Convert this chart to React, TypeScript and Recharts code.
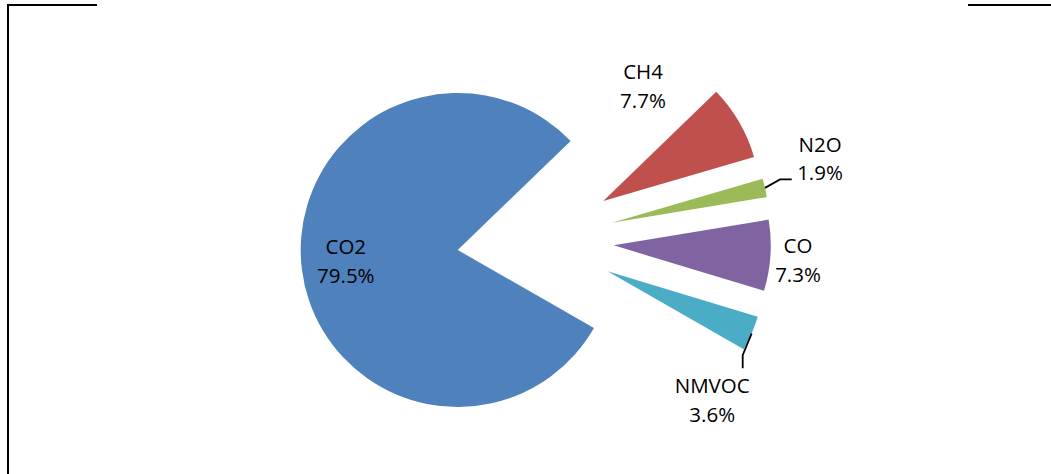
import React from 'react';
import { PieChart, Pie, Cell } from 'recharts';

const categories = ['CO2', 'CH4', 'N2O', 'CO', 'NMVOC'];
const shares = [79.5, 7.7, 1.9, 7.3, 3.6];

const COLORS = ['#4F81BD', '#C0504D', '#9BBB59', '#8064A2', '#4BACC6'];
// label block centre offsets from each exploded slice's centre (px)
const LABEL_OFFSETS: number[][] = [
  [-111.9, 13.5],
  [39.7, -112.9],
  [208.1, -62],
  [184.3, 17.1],
  [104.7, 130.9],
];
// leader line elbow and end, relative to label centre
const LEADERS: Record<number, number[][]> = {
  2: [[-40, 18.5], [-28.3, 18.5]],
  4: [[30.5, -47], [30.5, -34]],
};

const data = categories.map((name, i) => ({ name, value: shares[i] }));
const total = shares.reduce((a, b) => a + b, 0);
const START = 330.2;
const END = START - 360;
const CX = 535.5;
const CY = 240.3;
const R = 157;
const EXPLODE = 78.4;
const RAD = Math.PI / 180;

const mids = shares.map((v, i) => {
  const before = shares.slice(0, i).reduce((a, b) => a + b, 0);
  return START - (360 * (before + v / 2)) / total;
});

const FONT = "'Open Sans', sans-serif";

const renderLabel = (target: number) => (props: any) => {
  if (props.index !== target) return null;
  const [dx, dy] = LABEL_OFFSETS[target];
  const x = props.cx + dx;
  const y = props.cy + dy;
  const pct = ((props.value / total) * 100).toFixed(1) + '%';
  return (
    <text x={x} y={y} textAnchor="middle" fontFamily={FONT} fontSize={20.5} fill="#000">
      <tspan x={x} y={y - 9}>{categories[target]}</tspan>
      <tspan x={x} y={y + 19.5}>{pct}</tspan>
    </text>
  );
};

const renderLine = (target: number) => (props: any) => {
  if (props.index !== target || !LEADERS[target]) return null;
  const m = props.midAngle * RAD;
  const sx = props.cx + props.outerRadius * Math.cos(m);
  const sy = props.cy - props.outerRadius * Math.sin(m);
  const [dx, dy] = LABEL_OFFSETS[target];
  const lx = props.cx + dx;
  const ly = props.cy + dy;
  const pts = [[sx, sy], ...LEADERS[target].map(([ox, oy]) => [lx + ox, ly + oy])];
  return (
    <polyline
      points={pts.map((p) => p.join(',')).join(' ')}
      stroke="#000"
      strokeWidth={1.8}
      fill="none"
    />
  );
};

export default function App() {
  return (
    <div style={{ position: 'absolute', left: 0, top: 0, width: 1051, height: 474, background: '#fff' }}>
      <PieChart width={1051} height={474} margin={{ top: 0, right: 0, bottom: 0, left: 0 }}>
        {mids.map((mid, i) => (
          <Pie
            key={categories[i]}
            data={data}
            dataKey="value"
            nameKey="name"
            cx={CX + EXPLODE * Math.cos(mid * RAD)}
            cy={CY - EXPLODE * Math.sin(mid * RAD)}
            innerRadius={0}
            outerRadius={R}
            startAngle={START}
            endAngle={END}
            stroke="none"
            isAnimationActive={false}
            label={renderLabel(i)}
            labelLine={renderLine(i)}
          >
            {data.map((d, j) => (
              <Cell key={d.name} fill={j === i ? COLORS[j] : 'none'} stroke="none" />
            ))}
          </Pie>
        ))}
      </PieChart>
      <div style={{ position: 'absolute', left: 7, top: 4, width: 90, height: 2, background: '#000' }} />
      <div style={{ position: 'absolute', left: 7, top: 4, width: 2, height: 470, background: '#000' }} />
      <div style={{ position: 'absolute', left: 968, top: 4, width: 83, height: 2, background: '#000' }} />
    </div>
  );
}
